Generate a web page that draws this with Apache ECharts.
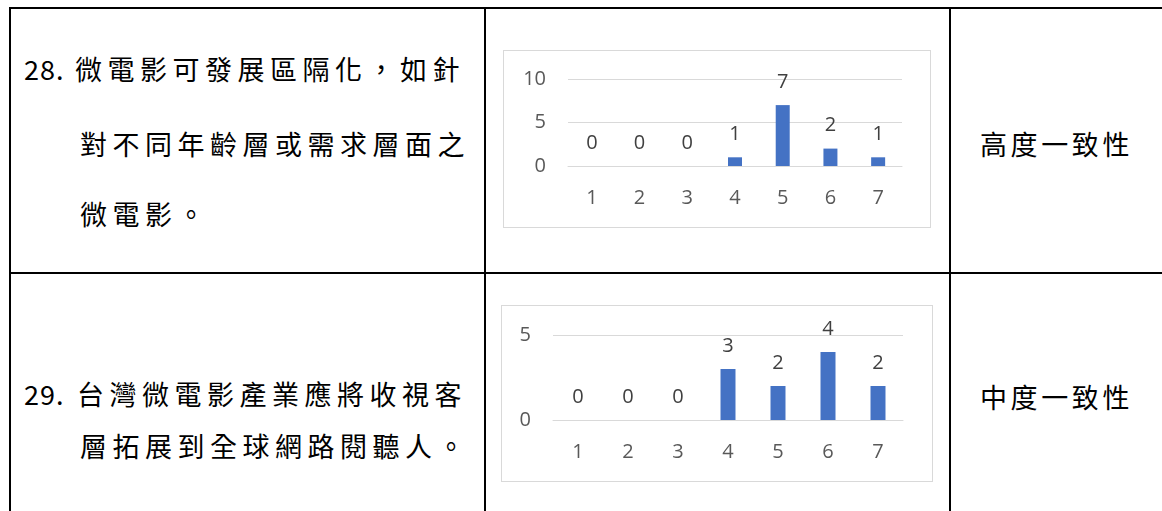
<!DOCTYPE html>
<html>
<head>
<meta charset="utf-8">
<script src="https://cdn.jsdelivr.net/npm/echarts@6/dist/echarts.min.js"></script>
<style>
	html, body { margin: 0; padding: 0; background: #fff; }
	body { width: 1162px; height: 511px; position: relative; overflow: hidden; }
	.rule { position: absolute; background: #000; }
	.line {
		position: absolute; white-space: nowrap; color: #000;
		font-family: "Noto Sans CJK TC", "Noto Sans CJK SC", sans-serif;
		font-size: 27px; line-height: 30px; letter-spacing: 5.5px;
	}
	.num { letter-spacing: 1px; }
	.chart { position: absolute; border: 1px solid #d9d9d9; box-sizing: border-box; }
</style>
</head>
<body>
<!-- table rules -->
<div class="rule" style="left:9px;top:7px;width:1153px;height:2px"></div>
<div class="rule" style="left:9px;top:272px;width:1153px;height:2px"></div>
<div class="rule" style="left:9px;top:7px;width:2px;height:504px"></div>
<div class="rule" style="left:484px;top:7px;width:2px;height:504px"></div>
<div class="rule" style="left:949px;top:7px;width:2px;height:504px"></div>

<!-- question cells -->
<div class="line num" style="left:24px;top:54px">28.</div>
<div class="line" style="left:75px;top:54px">微電影可發展區隔化，如針</div>
<div class="line" style="left:80px;top:129px">對不同年齡層或需求層面之</div>
<div class="line" style="left:80px;top:199px">微電影。</div>

<div class="line num" style="left:24px;top:379px">29.</div>
<div class="line" style="left:77px;top:379px">台灣微電影產業應將收視客</div>
<div class="line" style="left:80px;top:431px">層拓展到全球網路閱聽人。</div>

<!-- result cells -->
<div class="line" style="left:980px;top:129px;letter-spacing:3.6px">高度一致性</div>
<div class="line" style="left:980px;top:382px;letter-spacing:3.6px">中度一致性</div>

<div id="chart28" class="chart" style="left:503px;top:50px;width:428px;height:178px"></div>
<div id="chart29" class="chart" style="left:501px;top:305px;width:432px;height:177px"></div>

<script>
// Likert scale points 1..7 and number of experts choosing each
const categories = ['1', '2', '3', '4', '5', '6', '7'];
const q28Counts = [0, 0, 0, 1, 7, 2, 1];
const q29Counts = [0, 0, 0, 3, 2, 4, 2];
const q28Max = 10;
const q29Max = 5;
const tickStep = 5;

const barColor = '#4472C4';
const gridColor = '#d9d9d9';
const fontFamily = '"Open Sans", "Noto Sans", sans-serif';

function buildOption(counts, yMax, grid, barWidth) {
	return {
		animation: false,
		grid: grid,
		xAxis: {
			type: 'category',
			data: categories,
			axisLine: { show: true, lineStyle: { color: gridColor, width: 1 } },
			axisTick: { show: false },
			axisLabel: { color: '#595959', fontSize: 20, fontFamily: fontFamily, margin: 22 }
		},
		yAxis: {
			type: 'value',
			min: 0,
			max: yMax,
			interval: tickStep,
			axisLine: { show: false },
			axisTick: { show: false },
			splitLine: { lineStyle: { color: gridColor, width: 1 } },
			axisLabel: { color: '#595959', fontSize: 20, fontFamily: fontFamily, margin: 22 }
		},
		series: [{
			type: 'bar',
			data: counts,
			barWidth: barWidth,
			itemStyle: { color: barColor },
			label: {
				show: true,
				position: 'top',
				distance: 13,
				color: '#404040',
				fontSize: 20,
				fontFamily: fontFamily
			}
		}]
	};
}

const chart28 = echarts.init(document.getElementById('chart28'));
chart28.setOption(buildOption(q28Counts, q28Max, { left: 64, right: 28, top: 28, bottom: 61 }, 14));

const chart29 = echarts.init(document.getElementById('chart29'));
chart29.setOption(buildOption(q29Counts, q29Max, { left: 51, right: 29, top: 29, bottom: 61 }, 15));
</script>
</body>
</html>
